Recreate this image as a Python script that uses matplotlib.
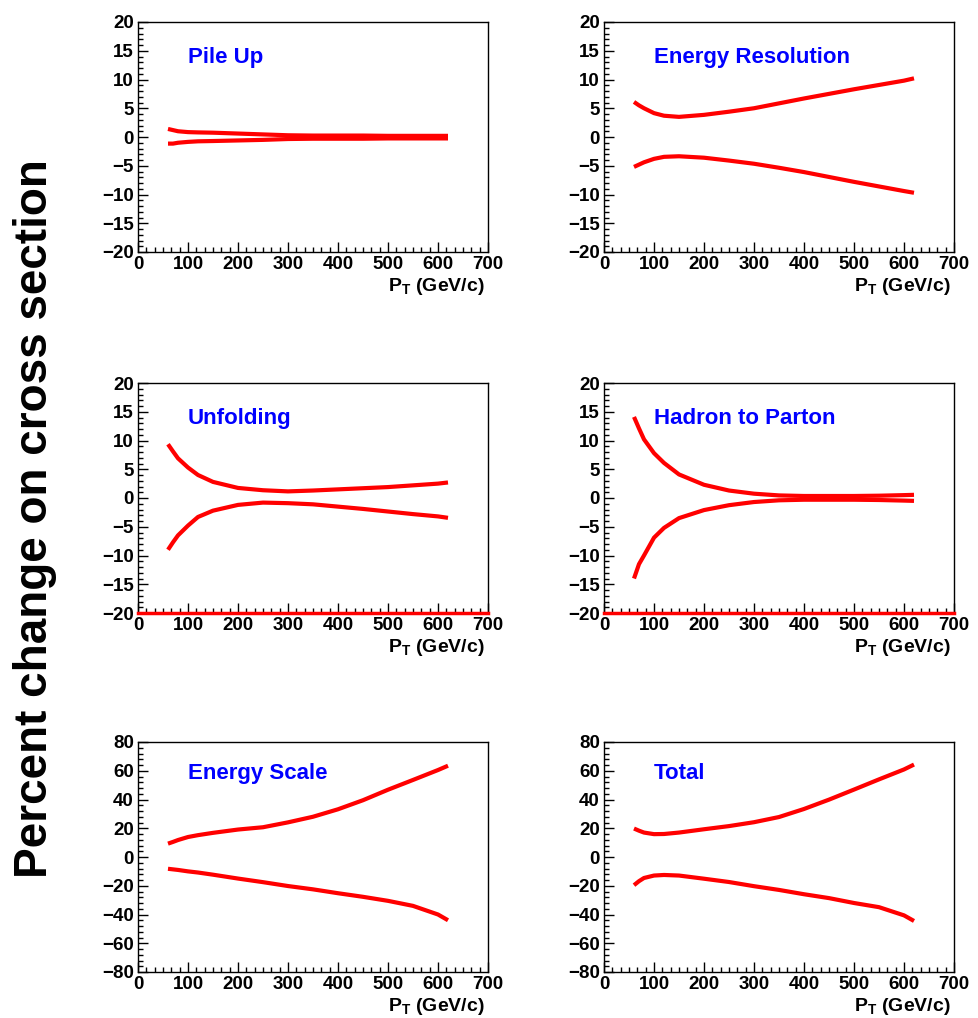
import matplotlib
matplotlib.use("Agg")
import matplotlib.pyplot as plt
from matplotlib.ticker import MultipleLocator

plt.rcParams['font.family'] = ['Liberation Sans', 'DejaVu Sans']
plt.rcParams['mathtext.fontset'] = 'custom'
plt.rcParams['mathtext.rm'] = 'Liberation Sans:bold'
plt.rcParams['mathtext.bf'] = 'Liberation Sans:bold'
plt.rcParams['mathtext.it'] = 'Liberation Sans:bold'

# ---- data ----
pt = [60, 70, 80, 100, 120, 150, 200, 250, 300, 350, 400, 450, 500, 550, 600, 620]

titles = ["Pile Up", "Energy Resolution", "Unfolding", "Hadron to Parton",
          "Energy Scale", "Total"]

pileup_up = [1.4, 1.2, 1.0, 0.85, 0.8, 0.75, 0.6, 0.45, 0.3, 0.25, 0.25, 0.25, 0.2, 0.2, 0.2, 0.2]
pileup_dn = [-1.15, -1.15, -1.0, -0.85, -0.75, -0.7, -0.6, -0.5, -0.35, -0.3, -0.3, -0.3, -0.25, -0.25, -0.25, -0.25]

eres_up = [6.1, 5.5, 5.0, 4.15, 3.7, 3.5, 3.85, 4.4, 5.0, 5.85, 6.7, 7.5, 8.3, 9.05, 9.8, 10.2]
eres_dn = [-5.2, -4.8, -4.4, -3.8, -3.45, -3.35, -3.6, -4.1, -4.65, -5.35, -6.1, -6.95, -7.8, -8.6, -9.4, -9.7]

unf_up = [9.35, 8.1, 6.9, 5.3, 4.0, 2.8, 1.75, 1.35, 1.15, 1.3, 1.5, 1.7, 1.9, 2.2, 2.5, 2.7]
unf_dn = [-9.0, -7.7, -6.5, -4.8, -3.3, -2.2, -1.2, -0.8, -0.9, -1.1, -1.5, -1.9, -2.35, -2.8, -3.2, -3.45]

h2p_up = [14.1, 12.1, 10.2, 7.8, 6.1, 4.1, 2.3, 1.3, 0.75, 0.45, 0.35, 0.35, 0.35, 0.4, 0.5, 0.55]
h2p_dn = [-14.0, -11.5, -10.0, -6.9, -5.2, -3.5, -2.1, -1.25, -0.7, -0.4, -0.3, -0.3, -0.3, -0.35, -0.45, -0.5]

escale_up = [9.3, 10.5, 11.8, 13.9, 15.2, 16.8, 19.1, 20.7, 24.1, 28.0, 33.2, 39.5, 46.8, 53.6, 60.5, 63.5]
escale_dn = [-8.2, -8.6, -9.0, -10.0, -10.8, -12.3, -15.0, -17.5, -20.2, -22.5, -25.2, -27.7, -30.5, -34.0, -40.0, -44.0]

total_up = [19.8, 18.3, 17.0, 15.9, 16.0, 17.0, 19.3, 21.5, 24.2, 27.8, 33.4, 39.9, 46.9, 54.0, 60.9, 64.3]
total_dn = [-19.6, -16.8, -14.6, -12.9, -12.5, -12.9, -15.1, -17.4, -20.3, -22.9, -25.9, -28.6, -32.0, -34.9, -40.6, -44.5]

uppers = [pileup_up, eres_up, unf_up, h2p_up, escale_up, total_up]
lowers = [pileup_dn, eres_dn, unf_dn, h2p_dn, escale_dn, total_dn]

ylims = [(-20, 20), (-20, 20), (-20, 20), (-20, 20), (-80, 80), (-80, 80)]
ymajor = [5, 5, 5, 5, 20, 20]
yminor = [1, 1, 1, 1, 4, 4]
bottom_line = [False, False, True, True, False, False]

# ---- layout ----
W, H = 979, 1018
fig = plt.figure(figsize=(W / 100, H / 100), dpi=100)
col_left = [138, 604]
col_w = 350
row_top = [22, 383, 742]
row_h = 230
title_y = [0.845, 0.845, 0.865]

for i in range(6):
    r, c = divmod(i, 2)
    l = col_left[c] / W
    b = 1 - (row_top[r] + row_h) / H
    ax = fig.add_axes([l, b, col_w / W, row_h / H])
    ax.plot(pt, uppers[i], color='#ff0000', lw=3.0, solid_capstyle='butt')
    ax.plot(pt, lowers[i], color='#ff0000', lw=3.0, solid_capstyle='butt')
    if bottom_line[i]:
        ax.axhline(ylims[i][0], color='#ff0000', lw=2.5, clip_on=False, zorder=5)
    ax.set_xlim(0, 700)
    ax.set_ylim(*ylims[i])
    ax.xaxis.set_major_locator(MultipleLocator(100))
    ax.xaxis.set_minor_locator(MultipleLocator(100 / 6))
    ax.yaxis.set_major_locator(MultipleLocator(ymajor[i]))
    ax.yaxis.set_minor_locator(MultipleLocator(yminor[i]))
    ax.tick_params(which='both', direction='in', top=False, right=False, width=1.0)
    ax.tick_params(which='major', length=7, labelsize=13.5, pad=3)
    ax.tick_params(which='minor', length=3.5)
    for lab in ax.get_xticklabels() + ax.get_yticklabels():
        lab.set_fontweight('bold')
    for s in ax.spines.values():
        s.set_linewidth(1.0)
    ax.text(0.143, title_y[r], titles[i], transform=ax.transAxes, color='#0000ff',
            fontsize=16, fontweight='bold', ha='left', va='center')
    ax.text(0.99, -0.15, r"P$_{\mathrm{T}}$ (GeV/c)", transform=ax.transAxes,
            fontsize=14, fontweight='bold', ha='right', va='center')

fig.text(35 / W, 1 - 519 / H, "Percent change on cross section", rotation=90,
         fontsize=33, fontweight='bold', ha='center', va='center')

fig.savefig("out.png", dpi=100, facecolor='white')
